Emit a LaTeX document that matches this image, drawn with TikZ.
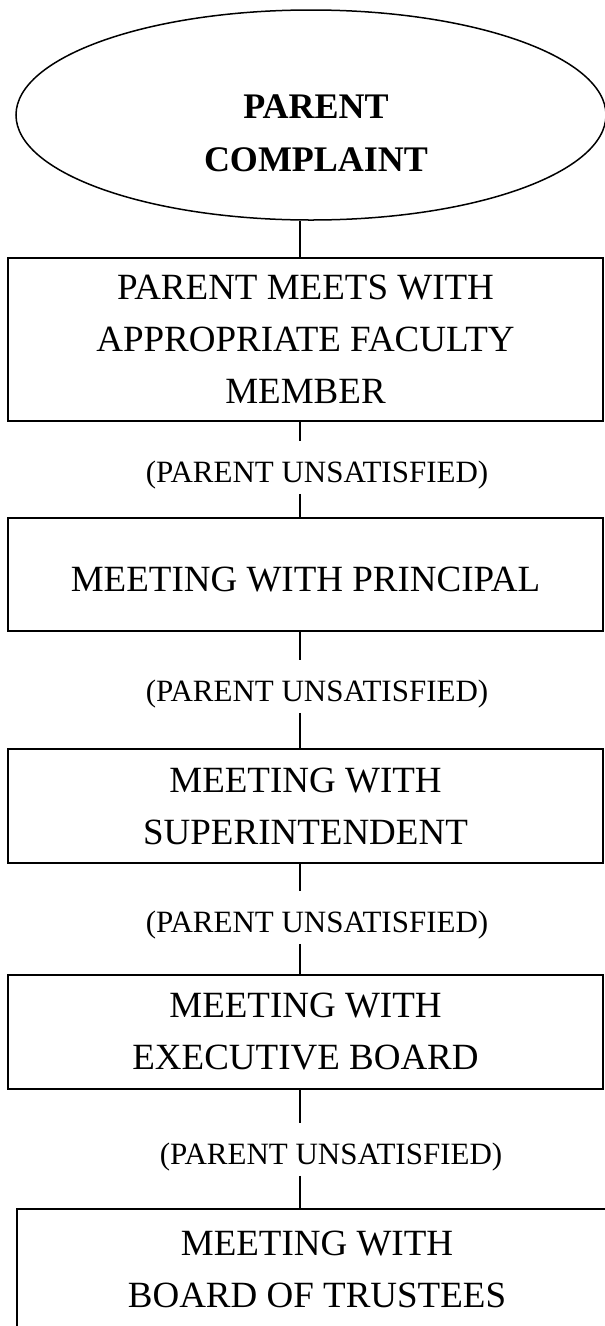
\documentclass[tikz,border=0pt]{standalone}
\usepackage{fontspec}
\setmainfont{Liberation Serif}
\usetikzlibrary{shapes.geometric}

\begin{document}
\begin{tikzpicture}[x=1pt, y=-1pt,
    stage/.style={draw, line width=1.6pt, align=center, inner sep=0pt, font=\fontsize{37}{52}\selectfont},
    unsat/.style={inner sep=0pt, font=\fontsize{31}{36}\selectfont},
    conn/.style={line width=1.3pt}]

\useasboundingbox (0,0) rectangle (605,1326);

\coordinate (spine) at (300,0);

\node (complaint) [ellipse, draw, line width=1.5pt, minimum width=590, minimum height=210,
    label={[font=\bfseries\fontsize{36}{53}\selectfont, align=center, shift={(5,18)}]center:PARENT\\COMPLAINT}]
    at (311,115) {};

\node (faculty) [stage, minimum width=595, minimum height=163] at (305.5,339.5) {PARENT MEETS WITH\\APPROPRIATE FACULTY\\MEMBER};
\node (principal) [stage, minimum width=595, minimum height=113, text height=35.5pt] at (305.5,574.5) {MEETING WITH PRINCIPAL};
\node (superint) [stage, minimum width=595, minimum height=114] at (305.5,806) {MEETING WITH\\SUPERINTENDENT};
\node (execboard) [stage, minimum width=595, minimum height=114] at (305.5,1032) {MEETING WITH\\EXECUTIVE BOARD};
\node (trustees) [stage, minimum width=600, minimum height=120] at (317,1269) {MEETING WITH\\BOARD OF TRUSTEES};

\node (pu1) [unsat] at (317,475.5) {(PARENT UNSATISFIED)};
\node (pu2) [unsat] at (317,694.5) {(PARENT UNSATISFIED)};
\node (pu3) [unsat] at (317,925.5) {(PARENT UNSATISFIED)};
\node (pu4) [unsat] at (331,1157.5) {(PARENT UNSATISFIED)};

\draw [conn] (complaint.south -| spine) -- (faculty.north -| spine);

\foreach \a/\b/\c in {faculty/pu1/principal, principal/pu2/superint, superint/pu3/execboard, execboard/pu4/trustees}
{
    \draw [conn, shorten >=20pt] (\a.south -| spine) -- (\b.north -| spine);
    \draw [conn, shorten <=4pt] (\b.south -| spine) -- (\c.north -| spine);
}

\end{tikzpicture}
\end{document}
